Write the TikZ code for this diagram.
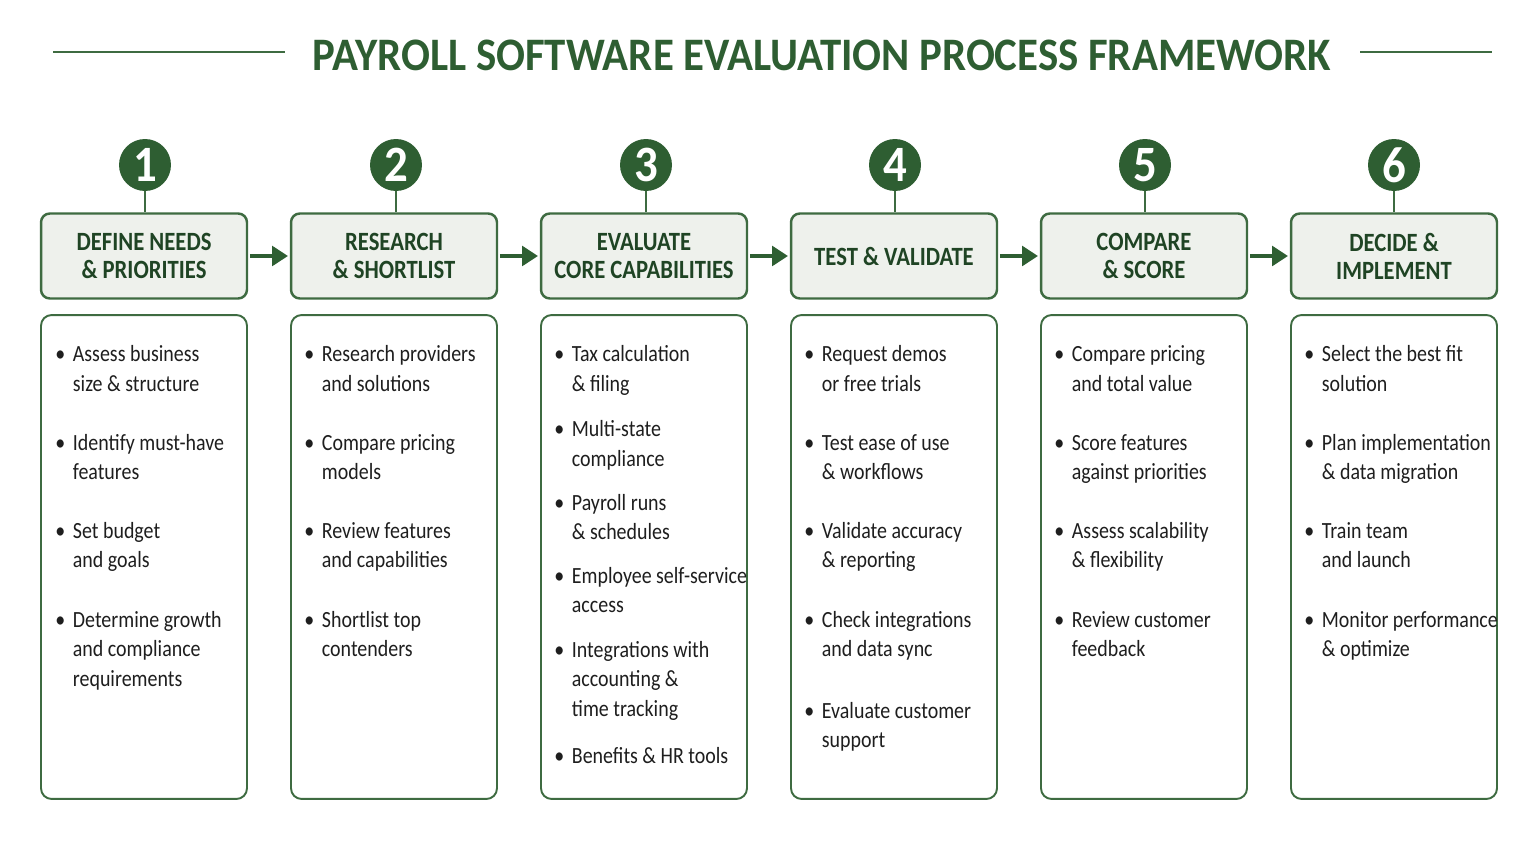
\documentclass[tikz,border=0pt]{standalone}
\usepackage{fontspec}
\setmainfont[FakeStretch=0.86]{Carlito}
\newfontfamily\titlefont[FakeStretch=0.92]{Carlito}
\usetikzlibrary{arrows.meta,positioning}
\definecolor{pgreen}{HTML}{2E5E32}
\definecolor{pedge}{HTML}{3E6B41}
\definecolor{pdark}{HTML}{1F4424}
\definecolor{pfill}{HTML}{EEF1EC}
\definecolor{ptext}{HTML}{1E1E1E}
\newcommand{\bul}[1]{\makebox[10pt][l]{\textbullet}\begin{tabular}[t]{@{}l@{}}#1\end{tabular}}

\begin{document}
\begin{tikzpicture}[x=0.02cm,y=-0.02cm,
  num/.style={circle,fill=pgreen,minimum size=1.04cm,inner sep=0pt,text=white,
    font=\titlefont\fontsize{29}{29}\selectfont\bfseries},
  head/.style={draw=pedge,line width=1.4pt,rounded corners=5pt,fill=pfill,
    minimum width=4.12cm,minimum height=1.7cm,align=center,text=pdark,
    font=\fontsize{15}{16}\selectfont\bfseries},
  body/.style={draw=pedge,line width=1.1pt,rounded corners=6pt,
    minimum width=4.12cm,minimum height=9.68cm},
  item/.style={anchor=base west,inner sep=0pt,text=ptext,
    font=\fontsize{13.2}{17}\selectfont},
  link/.style={pedge,line width=1.2pt},
  rule/.style={pedge,line width=0.9pt},
  flow/.style={pgreen,line width=2.6pt,shorten <=1pt,shorten >=1pt,
    -{Triangle[length=9pt,width=11pt]}}]
  \useasboundingbox (0,0) rectangle (1536,841);

  % title
  \node[text=pgreen,font=\titlefont\fontsize{26.5}{26.5}\selectfont\bfseries] (title) at (822,55)
    {PAYROLL SOFTWARE EVALUATION PROCESS FRAMEWORK};
  \draw[rule] (53,52) -- (285,52);
  \draw[rule] (1360,52) -- (1492,52);

  % step headers
  \node[head] (h1) at (144,256) {DEFINE NEEDS\\\& PRIORITIES};
  \node[head] (h2) at (394,256) {RESEARCH\\\& SHORTLIST};
  \node[head] (h3) at (644,256) {EVALUATE\\CORE CAPABILITIES};
  \node[head] (h4) at (894,256) {TEST \& VALIDATE};
  \node[head] (h5) at (1144,256) {COMPARE\\\& SCORE};
  \node[head] (h6) at (1394,256) {DECIDE \&\\IMPLEMENT};

  % numbers
  \node[num] (n1) at (145,165) {1};
  \node[num] (n2) at (396,165) {2};
  \node[num] (n3) at (646,165) {3};
  \node[num] (n4) at (895,165) {4};
  \node[num] (n5) at (1145,165) {5};
  \node[num] (n6) at (1394,165) {6};
  \draw[link] (n1) -- (h1.north -| n1);
  \draw[link] (n2) -- (h2.north -| n2);
  \draw[link] (n3) -- (h3.north -| n3);
  \draw[link] (n4) -- (h4.north -| n4);
  \draw[link] (n5) -- (h5.north -| n5);
  \draw[link] (n6) -- (h6.north -| n6);

  % arrows
  \draw[flow] (h1) -- (h2);
  \draw[flow] (h2) -- (h3);
  \draw[flow] (h3) -- (h4);
  \draw[flow] (h4) -- (h5);
  \draw[flow] (h5) -- (h6);

  % detail boxes
  \node[body] (b1) at (144,557) {};
  \node[body] (b2) at (394,557) {};
  \node[body] (b3) at (644,557) {};
  \node[body] (b4) at (894,557) {};
  \node[body] (b5) at (1144,557) {};
  \node[body] (b6) at (1394,557) {};

  % column 1
  \node[item] (b1-1) at (55,362) {\bul{Assess business\\size \& structure}};
  \node[item] (b1-2) at (55,450) {\bul{Identify must-have\\features}};
  \node[item] (b1-3) at (55,538) {\bul{Set budget\\and goals}};
  \node[item] (b1-4) at (55,627) {\bul{Determine growth\\and compliance\\requirements}};

  % column 2
  \node[item] (b2-1) at (304,362) {\bul{Research providers\\and solutions}};
  \node[item] (b2-2) at (304,450) {\bul{Compare pricing\\models}};
  \node[item] (b2-3) at (304,538) {\bul{Review features\\and capabilities}};
  \node[item] (b2-4) at (304,627) {\bul{Shortlist top\\contenders}};

  % column 3
  \node[item] (b3-1) at (554,362) {\bul{Tax calculation\\\& filing}};
  \node[item] (b3-2) at (554,437) {\bul{Multi-state\\compliance}};
  \node[item] (b3-3) at (554,510) {\bul{Payroll runs\\\& schedules}};
  \node[item] (b3-4) at (554,583) {\bul{Employee self-service\\access}};
  \node[item] (b3-5) at (554,657) {\bul{Integrations with\\accounting \&\\time tracking}};
  \node[item] (b3-6) at (554,763) {\bul{Benefits \& HR tools}};

  % column 4
  \node[item] (b4-1) at (804,362) {\bul{Request demos\\or free trials}};
  \node[item] (b4-2) at (804,450) {\bul{Test ease of use\\\& workflows}};
  \node[item] (b4-3) at (804,538) {\bul{Validate accuracy\\\& reporting}};
  \node[item] (b4-4) at (804,627) {\bul{Check integrations\\and data sync}};
  \node[item] (b4-5) at (804,718) {\bul{Evaluate customer\\support}};

  % column 5
  \node[item] (b5-1) at (1054,362) {\bul{Compare pricing\\and total value}};
  \node[item] (b5-2) at (1054,450) {\bul{Score features\\against priorities}};
  \node[item] (b5-3) at (1054,538) {\bul{Assess scalability\\\& flexibility}};
  \node[item] (b5-4) at (1054,627) {\bul{Review customer\\feedback}};

  % column 6
  \node[item] (b6-1) at (1304,362) {\bul{Select the best fit\\solution}};
  \node[item] (b6-2) at (1304,450) {\bul{Plan implementation\\\& data migration}};
  \node[item] (b6-3) at (1304,538) {\bul{Train team\\and launch}};
  \node[item] (b6-4) at (1304,627) {\bul{Monitor performance\\\& optimize}};
\end{tikzpicture}
\end{document}
